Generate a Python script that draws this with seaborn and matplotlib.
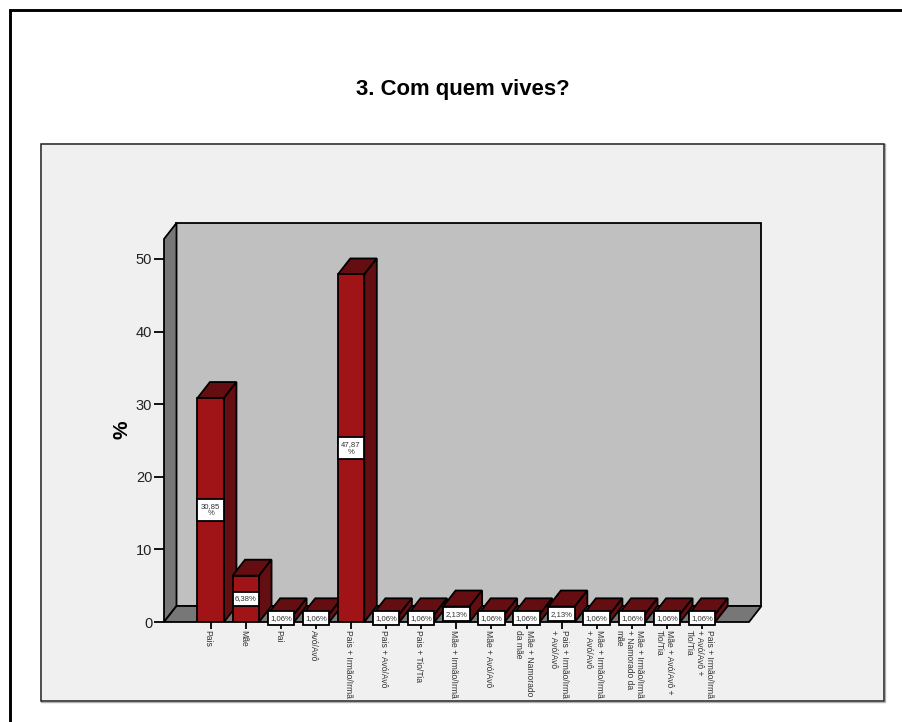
import numpy as np
import pandas as pd
import seaborn as sns
import matplotlib.pyplot as plt
from matplotlib.patches import Polygon, Rectangle
from matplotlib.transforms import ScaledTranslation

# values
categories = ["Pais", "Mãe", "Pai", "Avó/Avô", "Pais + Irmão/Irmã", "Pais + Avó/Avô",
              "Pais + Tio/Tia", "Mãe + Irmão/Irmã", "Mãe + Avó/Avô",
              "Mãe + Namorado\nda mãe", "Pais + Irmão/Irmã\n+ Avó/Avô",
              "Mãe + Irmão/Irmã\n+ Avó/Avô", "Mãe + Irmão/Irmã\n+ Namorado da\nmãe",
              "Mãe + Avó/Avô +\nTio/Tia", "Pais + Irmão/Irmã\n+ Avó/Avô +\nTio/Tia"]
percent = [30.85, 6.38, 1.06, 1.06, 47.87, 1.06, 1.06, 2.13, 1.06, 1.06, 2.13, 1.06, 1.06, 1.06, 1.06]
bar_labels = ["30,85\n%", "6,38%", "1,06%", "1,06%", "47,87\n%", "1,06%", "1,06%", "2,13%",
              "1,06%", "1,06%", "2,13%", "1,06%", "1,06%", "1,06%", "1,06%"]
yticks = [0, 10, 20, 30, 40, 50]

sns.set_style("white")
plt.rcParams['font.family'] = ['Liberation Sans', 'DejaVu Sans']

W, H = 903, 722
fig = plt.figure(figsize=(W / 100, H / 100), dpi=100, facecolor="white")

def fx(px):
    return px / W

def fy(px):
    return 1 - px / H

# outer frame and grey panel
fig.add_artist(plt.Line2D([fx(10.5), fx(10.5), fx(903)], [fy(722), fy(9.5), fy(9.5)], color="black", lw=2.1,
                          solid_joinstyle="miter", zorder=-3))
fig.add_artist(Rectangle((fx(41), fy(702)), (885 - 41) / W, (702 - 144) / H, transform=fig.transFigure,
                         fc="none", ec="#b0b0b0", lw=1, zorder=-2))
fig.add_artist(Rectangle((fx(41), fy(700.5)), (884 - 41) / W, (700.5 - 144) / H, transform=fig.transFigure,
                         fc="#f0f0f0", ec="#222222", lw=1.1, zorder=-1))
fig.text(fx(463), fy(90), "3. Com quem vives?", ha="center", va="center", fontsize=15.9, fontweight="bold",
         color="black")

# axes box is the front of the 3d plot: x 164-749, y 622-239
ax = fig.add_axes([fx(164), fy(622), (749 - 164) / W, (622 - 239) / H])
ax.patch.set_alpha(0)
for s in ax.spines.values():
    s.set_visible(False)

df = pd.DataFrame({"cat": categories, "pct": percent})
sns.barplot(data=df, x="cat", y="pct", color="#a01418", saturation=1, width=0.755,
            edgecolor="black", linewidth=1.3, ax=ax)

px_x = 35.09
px_y = 7.26
ax.set_xlim(-46.7 / px_x, 538.3 / px_x)
ax.set_ylim(0, 383 / px_y)
dx = 12.5 / px_x
dy = 16 / px_y
x0, x1 = ax.get_xlim()
y1 = ax.get_ylim()[1]

# walls and floor
wall = dict(ec="black", lw=1.3, clip_on=False, joinstyle="miter")
ax.add_patch(Polygon([(x0 + dx, dy), (x1 + dx, dy), (x1 + dx, y1 + dy), (x0 + dx, y1 + dy)], fc="#c0c0c0", zorder=1, **wall))
ax.add_patch(Polygon([(x0, 0), (x0 + dx, dy), (x0 + dx, y1 + dy), (x0, y1)], fc="#777777", zorder=1, **wall))
ax.add_patch(Polygon([(x0, 0), (x1, 0), (x1 + dx, dy), (x0 + dx, dy)], fc="#777777", zorder=2, **wall))

# 3d faces come from the drawn bars, each bar sits in front of the one on its left
for i, (bar, label) in enumerate(zip(list(ax.patches)[:len(percent)], bar_labels)):
    l, w, h = bar.get_x(), bar.get_width(), bar.get_height()
    r = l + w
    bar.set_zorder(5 + i + 0.5)
    ax.add_patch(Polygon([(l, h), (r, h), (r + dx, h + dy), (l + dx, h + dy)], fc="#650e11", zorder=5 + i, **wall))
    ax.add_patch(Polygon([(r, 0), (r + dx, dy), (r + dx, h + dy), (r, h)], fc="#650e11", zorder=5 + i, **wall))
    # white label box is as wide as the bar
    box_h = (21.5 if "\n" in label else 14) / px_y
    ax.add_patch(Rectangle((l, h / 2 - box_h / 2), w, box_h, fc="white", ec="black", lw=1.3, zorder=49, clip_on=False))
    ax.text(l + w / 2, h / 2, label, ha="center", va="center", fontsize=5.6, color="#333333", zorder=50,
            linespacing=1.15)

ax.set_yticks(yticks)
ax.set_xticks(np.arange(len(categories)))
ax.set_xticklabels(categories, rotation=270, ha="center", va="top", fontsize=6.15, color="#333333",
                   linespacing=1.2, multialignment="left")
ax.tick_params(axis="y", length=7, width=1.3, color="black", labelsize=10.5, pad=1.5, left=True, labelcolor="#222222")
ax.tick_params(axis="x", length=5, width=1.3, color="black", pad=0.5, bottom=True)
# tick labels sit a little left of the tick, has to come after tick_params
shift = ScaledTranslation(-2.5 / 100, 0, fig.dpi_scale_trans)
for t in ax.get_xticklabels():
    t.set_transform(t.get_transform() + shift)
ax.set_xlabel("")
ax.set_ylabel("")
fig.text(fx(122), fy(430), "%", rotation=90, ha="center", va="center", fontsize=15, fontweight="bold",
         color="black")

fig.savefig("out.png", dpi=100)
